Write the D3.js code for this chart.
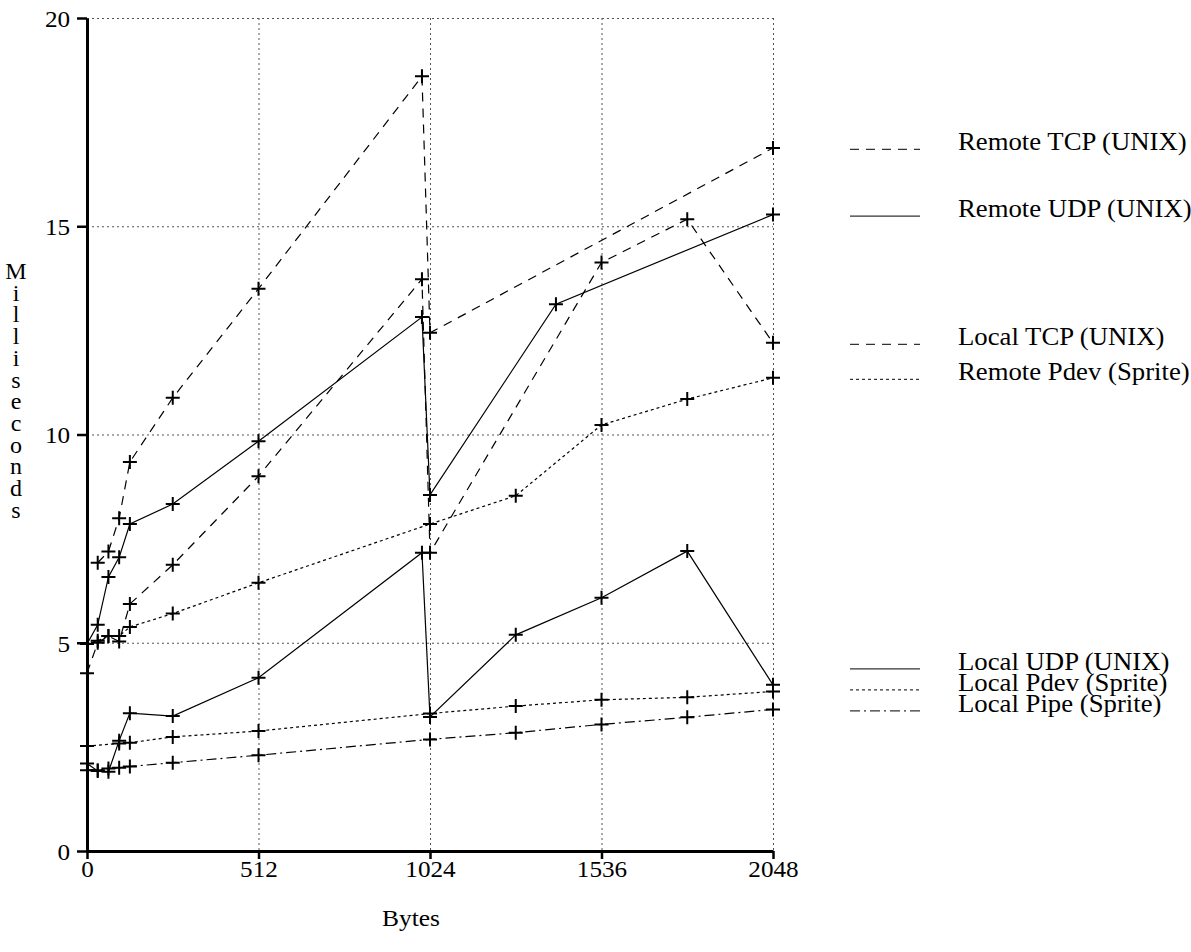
<!DOCTYPE html>
<html lang="en">
<head>
    <meta charset="utf-8">
    <title>Milliseconds vs Bytes</title>
    <script src="https://cdn.jsdelivr.net/npm/d3@7/dist/d3.min.js"></script>
    <style type="text/css">
        body
        {
            margin: 0;
            background-color: white;
        }
        svg text
        {
            font-family: "Liberation Serif", "Times New Roman", serif;
            font-size: 24px;
            fill: black;
        }
        .legend text
        {
            font-size: 25px;
        }
    </style>
</head>
<body>
    <div id="chart_div"></div>
    <script>
    "use strict";

    // bytes on the x axis, milliseconds on the y axis
    var remote_tcp_x = [32, 64, 96, 128, 256, 512, 1000, 1024, 2048];
    var remote_tcp_y = [6.92, 7.19, 7.99, 9.34, 10.88, 13.5, 18.6, 12.44, 16.88];

    var remote_udp_x = [0, 32, 64, 96, 128, 256, 512, 1000, 1024, 1400, 2048];
    var remote_udp_y = [4.97, 5.43, 6.58, 7.05, 7.85, 8.33, 9.84, 12.82, 8.55, 13.13, 15.28];

    var local_tcp_x = [0, 32, 64, 96, 128, 256, 512, 1000, 1024, 1536, 1792, 2048];
    var local_tcp_y = [4.27, 5.0, 5.16, 5.03, 5.93, 6.87, 9.0, 13.73, 7.16, 14.13, 15.17, 12.2];

    var remote_pdev_x = [0, 32, 64, 96, 128, 256, 512, 1024, 1280, 1536, 1792, 2048];
    var remote_pdev_y = [4.97, 5.05, 5.16, 5.16, 5.38, 5.7, 6.44, 7.85, 8.53, 10.23, 10.85, 11.36];

    var local_udp_x = [0, 32, 64, 96, 128, 256, 512, 1000, 1024, 1280, 1536, 1792, 2048];
    var local_udp_y = [2.1, 1.92, 1.9, 2.65, 3.31, 3.24, 4.16, 7.16, 3.22, 5.19, 6.08, 7.2, 3.99];

    var local_pdev_x = [0, 96, 128, 256, 512, 1024, 1280, 1536, 1792, 2048];
    var local_pdev_y = [2.52, 2.58, 2.6, 2.74, 2.88, 3.3, 3.48, 3.63, 3.69, 3.83];

    var local_pipe_x = [0, 32, 64, 96, 128, 256, 512, 1024, 1280, 1536, 1792, 2048];
    var local_pipe_y = [1.94, 1.94, 1.98, 2.0, 2.03, 2.12, 2.3, 2.68, 2.84, 3.04, 3.21, 3.4];

    var series_names = ["Remote TCP (UNIX)", "Remote UDP (UNIX)", "Local TCP (UNIX)", "Remote Pdev (Sprite)",
                        "Local UDP (UNIX)", "Local Pdev (Sprite)", "Local Pipe (Sprite)"];
    var series_x = [remote_tcp_x, remote_udp_x, local_tcp_x, remote_pdev_x, local_udp_x, local_pdev_x, local_pipe_x];
    var series_y = [remote_tcp_y, remote_udp_y, local_tcp_y, remote_pdev_y, local_udp_y, local_pdev_y, local_pipe_y];
    var series_dash = ["9,7", null, "9,7", "3,3", null, "3,3", "10,4,2,4"];

    var x_ticks = [0, 512, 1024, 1536, 2048];
    var y_ticks = [0, 5, 10, 15, 20];
    var x_label = "Bytes";
    var y_label = "Milliseconds";

    var svg_width = 1191;
    var svg_height = 952;
    var plot_left = 87, plot_right = 773, plot_top = 18, plot_bottom = 851;

    var xscale = d3.scaleLinear().domain([0, 2048]).range([plot_left, plot_right]);
    var yscale = d3.scaleLinear().domain([0, 20]).range([plot_bottom, plot_top]);

    var svg = d3.select("#chart_div")
        .append("svg")
        .attr("width", svg_width)
        .attr("height", svg_height);

    // dotted grid
    var grid = svg.append("g")
        .attr("stroke", "#555")
        .attr("stroke-width", 1)
        .attr("stroke-dasharray", "2,3");
    grid.selectAll("line.h")
        .data(y_ticks.slice(1))
        .enter()
        .append("line")
        .attr("x1", plot_left).attr("x2", plot_right)
        .attr("y1", (d) => yscale(d) + 0.5).attr("y2", (d) => yscale(d) + 0.5);
    grid.selectAll("line.v")
        .data(x_ticks.slice(1))
        .enter()
        .append("line")
        .attr("y1", plot_top).attr("y2", plot_bottom)
        .attr("x1", (d) => xscale(d) + 0.5).attr("x2", (d) => xscale(d) + 0.5);

    // axes
    var xaxis = d3.axisBottom(xscale).tickValues(x_ticks).tickFormat(d3.format("d"))
        .tickSize(8).tickPadding(1).tickSizeOuter(0);
    var yaxis = d3.axisLeft(yscale).tickValues(y_ticks).tickFormat(d3.format("d"))
        .tickSize(10).tickPadding(6).tickSizeOuter(0);

    var gx = svg.append("g")
        .attr("transform", "translate(0," + plot_bottom + ")")
        .call(xaxis);
    var gy = svg.append("g")
        .attr("transform", "translate(" + plot_left + ",0)")
        .call(yaxis);
    [gx, gy].forEach(function(g)
    {
        g.attr("font-size", null).attr("font-family", null);
        g.select(".domain").attr("stroke", "black").attr("stroke-width", 3);
        g.selectAll(".tick line").attr("stroke", "black").attr("stroke-width", 2.5);
        g.selectAll(".tick text").attr("transform", "scale(1.05,1)");
    });
    gy.selectAll(".tick text").attr("dy", "0.35em");

    // axis titles
    svg.append("text")
        .attr("transform", "translate(411,926) scale(1.06,1)")
        .attr("text-anchor", "middle")
        .text(x_label);
    svg.append("text")
        .attr("text-anchor", "middle")
        .selectAll("tspan")
        .data(y_label.split(""))
        .enter()
        .append("tspan")
        .attr("x", 16)
        .attr("y", (d, i) => 279 + i * 21.7)
        .text((d) => d);

    // series lines and + markers
    var line = d3.line()
        .x((d) => xscale(d[0]))
        .y((d) => yscale(d[1]));

    series_names.forEach(function(name, i)
    {
        var pts = series_x[i].map((v, j) => [v, series_y[i][j]]);
        svg.append("path")
            .datum(pts)
            .attr("d", line)
            .attr("fill", "none")
            .attr("stroke", "black")
            .attr("stroke-width", 1.2)
            .attr("stroke-dasharray", series_dash[i]);
        svg.append("g")
            .selectAll("path")
            .data(pts)
            .enter()
            .append("path")
            .attr("d", "M-7,0H7M0,-7V7")
            .attr("transform", (d) => "translate(" + xscale(d[0]) + "," + yscale(d[1]) + ")")
            .attr("stroke", "black")
            .attr("stroke-width", 2);
    });

    // legend: each entry sits at its series' last value, pushed up when they crowd
    var legend_y = series_y.map((s) => yscale(s[s.length - 1]) + 1.5);
    for (var i = legend_y.length - 2; i >= 0; i--)
    {
        legend_y[i] = Math.min(legend_y[i], legend_y[i + 1] - 21);
    }
    var legend = svg.append("g").attr("class", "legend");
    series_names.forEach(function(name, i)
    {
        legend.append("line")
            .attr("x1", 850).attr("x2", 920)
            .attr("y1", legend_y[i]).attr("y2", legend_y[i])
            .attr("stroke", "#333")
            .attr("stroke-width", 1.2)
            .attr("stroke-dasharray", series_dash[i]);
        legend.append("text")
            .attr("transform", "translate(958," + (legend_y[i] + 1) + ") scale(1.07,1)")
            .text(name);
    });
    </script>
</body>
</html>
